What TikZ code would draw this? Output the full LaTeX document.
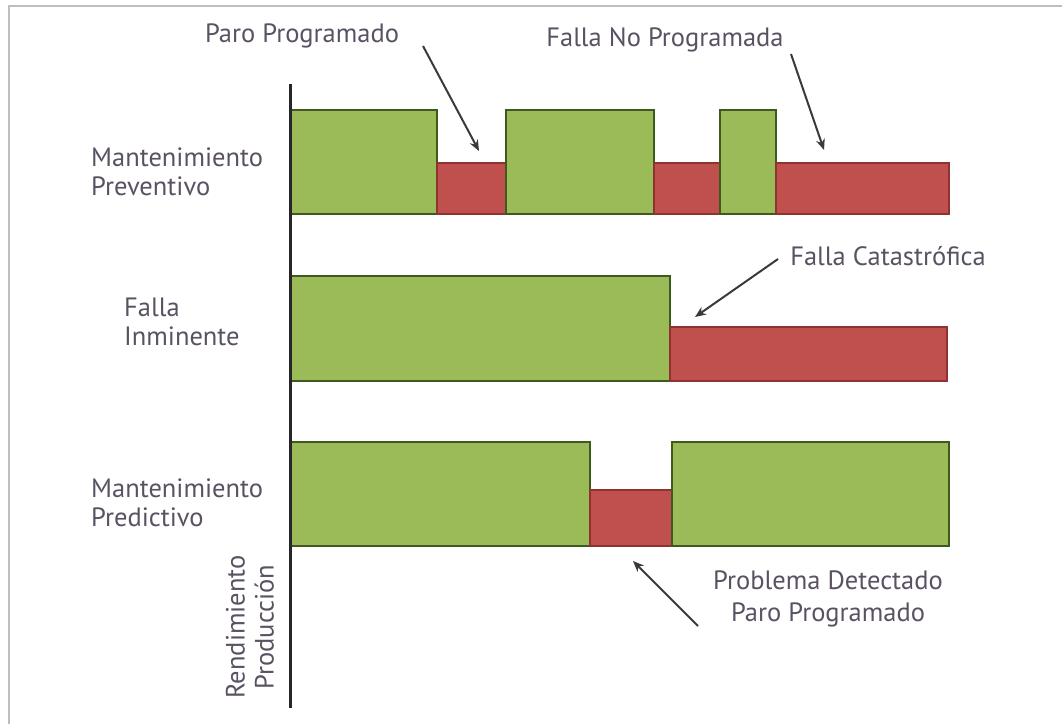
\documentclass[tikz,border=0pt]{standalone}
\usepackage{fontspec}
\setmainfont{PT Sans}
\usetikzlibrary{arrows.meta}
\definecolor{gfill}{HTML}{9BBB59}
\definecolor{gline}{HTML}{3F5A1E}
\definecolor{rfill}{HTML}{C0504D}
\definecolor{rline}{HTML}{8E3331}
\definecolor{txt}{HTML}{5A5262}
\definecolor{arr}{HTML}{3A3A3A}
\definecolor{frame}{HTML}{BEBEBE}
\tikzset{
  gbar/.style={rectangle, draw=gline, fill=gfill, line width=2.4pt, inner sep=0pt, anchor=north west},
  rbar/.style={rectangle, draw=rline, fill=rfill, line width=2.4pt, inner sep=0pt, anchor=north west},
  lbl/.style={text=txt, font=\fontsize{26.5}{29}\selectfont, inner sep=0pt, align=left},
  callout/.style={text=txt, font=\fontsize{26.5}{32}\selectfont, inner sep=0pt, align=center},
  pointer/.style={draw=arr, line width=2pt, -{Stealth[length=11pt,width=9pt]}},
}
\begin{document}
\begin{tikzpicture}[x=1pt,y=-1pt]
\useasboundingbox (0,0) rectangle (1062,724);
\fill[white] (0,0) rectangle (1062,724);
% frame
\draw[frame, line width=2.5pt] (9,724) -- (9,6) -- (1062,6);
% row 1
\node[gbar, minimum width=146pt, minimum height=104pt] (g11) at (290,109) {};
\node[rbar, minimum width=69pt, minimum height=51pt] (r11) at (436,162) {};
\node[gbar, minimum width=148pt, minimum height=104pt] (g12) at (505,109) {};
\node[rbar, minimum width=66pt, minimum height=51pt] (r12) at (653,162) {};
\node[gbar, minimum width=56pt, minimum height=104pt] (g13) at (719,109) {};
\node[rbar, minimum width=173pt, minimum height=51pt] (r13) at (775,162) {};
% row 2
\node[gbar, minimum width=379pt, minimum height=105pt] (g21) at (290,275) {};
\node[rbar, minimum width=277pt, minimum height=54pt] (r21) at (669,326) {};
% row 3
\node[gbar, minimum width=299pt, minimum height=104pt] (g31) at (290,441) {};
\node[rbar, minimum width=82pt, minimum height=56pt] (r31) at (589,489) {};
\node[gbar, minimum width=277pt, minimum height=104pt] (g32) at (671,441) {};
% axis
\coordinate (axtop) at (290,84);
\coordinate (axbot) at (290,708);
\draw[line width=3pt, black!85] (axtop) -- (axbot);
% row labels
\node[lbl, anchor=west] (l1) at (91,172) {Mantenimiento\\Preventivo};
\node[lbl, anchor=west] (l2) at (124,322) {Falla\\Inminente};
\node[lbl, anchor=west] (l3) at (91,503) {Mantenimiento\\Predictivo};
\node[lbl, rotate=90, align=center] (l4) at (250,627) {Rendimiento\\Producción};
% callouts
\node[callout] (c1) at (302,36) {Paro Programado};
\node[callout] (c2) at (665,40) {Falla No Programada};
\node[callout] (c3) at (888,256) {Falla Catastrófica};
\node[callout] (c4) at (828,599) {Problema Detectado\\Paro Programado};
% arrows
\coordinate (a1s) at (423,46);
\coordinate (a1e) at (479,151);
\coordinate (a2s) at (791,54);
\coordinate (a2e) at (824,150);
\coordinate (a3s) at (778,259);
\coordinate (a3e) at (695,317);
\coordinate (a4s) at (698,626);
\coordinate (a4e) at (633,561);
\draw[pointer] (a1s) -- (a1e);
\draw[pointer] (a2s) -- (a2e);
\draw[pointer] (a3s) -- (a3e);
\draw[pointer] (a4s) -- (a4e);
\end{tikzpicture}
\end{document}
